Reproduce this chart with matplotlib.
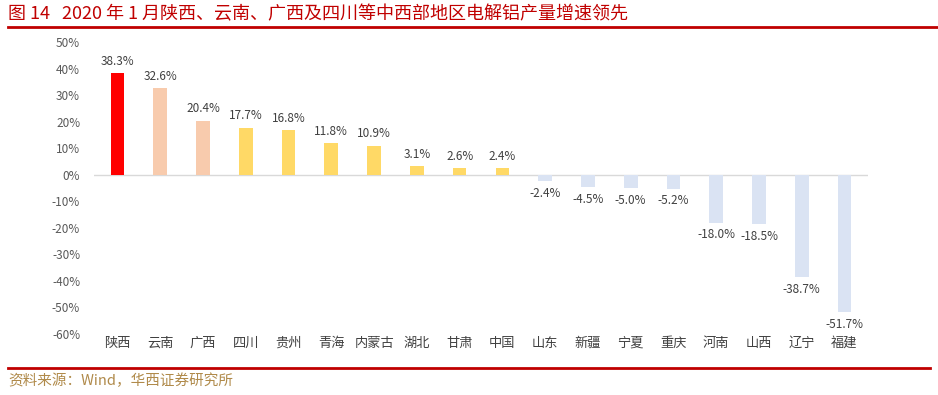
import matplotlib
matplotlib.use("Agg")
import matplotlib.pyplot as plt
from matplotlib.lines import Line2D

plt.rcParams['font.family'] = ['Noto Sans CJK SC', 'DejaVu Sans']

regions = ['陕西', '云南', '广西', '四川', '贵州', '青海', '内蒙古', '湖北', '甘肃', '中国',
           '山东', '新疆', '宁夏', '重庆', '河南', '山西', '辽宁', '福建']
growth = [38.3, 32.6, 20.4, 17.7, 16.8, 11.8, 10.9, 3.1, 2.6, 2.4,
          -2.4, -4.5, -5.0, -5.2, -18.0, -18.5, -38.7, -51.7]
colors = ['#FF0000', '#F8CBAD', '#F8CBAD'] + ['#FFD966'] * 7 + ['#DAE3F3'] * 8
yticks = list(range(-60, 51, 10))

fig = plt.figure(figsize=(9.38, 3.95), dpi=100)
ax = fig.add_axes([94 / 938, 1 - 334 / 395, (868 - 94) / 938, (334 - 42) / 395])

x = range(len(regions))
ax.bar(x, growth, width=0.32, color=colors, zorder=2)
ax.axhline(0, color='#D9D9D9', linewidth=1, zorder=1)

for i, v in enumerate(growth):
    off = 2.0 if v >= 0 else -2.2
    ax.text(i, v + off, f'{v:.1f}%', ha='center', va='bottom' if v >= 0 else 'top',
            fontsize=8.5, color='#404040')

ax.set_ylim(-60, 50)
ax.set_xlim(-0.55, len(regions) - 0.45)
ax.set_yticks(yticks)
ax.set_yticklabels([f'{t}%' for t in yticks], fontsize=8.5, color='#595959')
ax.set_xticks(list(x))
ax.set_xticklabels(regions, fontsize=9.5, color='#404040')
ax.tick_params(axis='both', length=0)
ax.tick_params(axis='x', pad=2)
ax.tick_params(axis='y', pad=10)
for s in ax.spines.values():
    s.set_visible(False)

fig.text(8 / 938, 1 - 14 / 395, '图 14   2020 年 1 月陕西、云南、广西及四川等中西部地区电解铝产量增速领先',
         fontsize=13, color='#C00000', va='center', ha='left')
fig.add_artist(Line2D([8 / 938, 1.0], [1 - 27 / 395] * 2, color='#C00000', linewidth=2))
fig.add_artist(Line2D([8 / 938, 930 / 938], [1 - 368 / 395] * 2, color='#C00000', linewidth=2))
fig.text(8 / 938, 1 - 381 / 395, '资料来源：Wind，华西证券研究所', fontsize=10.5,
         color='#B08A4A', va='center', ha='left')

fig.savefig('out.png', dpi=100)
